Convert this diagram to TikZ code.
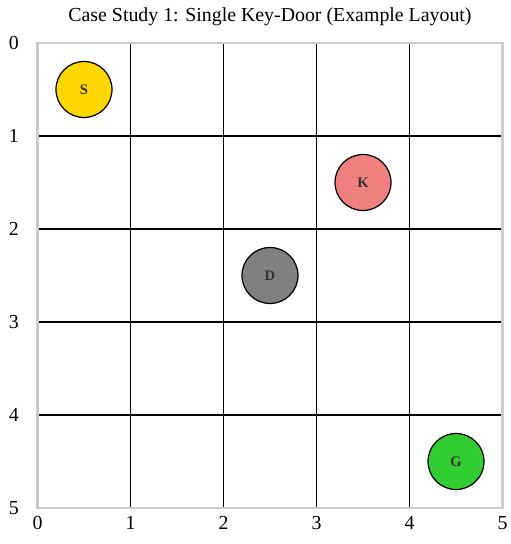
\documentclass[tikz,border=0pt]{standalone}
\usepackage{fontspec}
\setmainfont{Liberation Serif}
\usepackage{xcolor}
\usepackage{tikz}
\usetikzlibrary{positioning}

\definecolor{startgold}{HTML}{FFD700}
\definecolor{keycoral}{HTML}{F08080}
\definecolor{doorgray}{HTML}{808080}
\definecolor{goalgreen}{HTML}{32CD32}
\definecolor{framegray}{HTML}{CCCCCC}

\begin{document}
\begin{tikzpicture}[x=1.86cm, y=-1.86cm]
  \tikzstyle{cell} = [circle, draw=black, line width=0.7pt, minimum size=1.12cm, inner sep=0pt, font=\fontsize{8.3}{9}\selectfont\bfseries, text=black!80]
  \tikzstyle{gridline} = [black, line width=0.7pt]
  \tikzstyle{tick} = [font=\fontsize{11.3}{13}\selectfont, inner sep=0pt]
  \useasboundingbox (-0.403,-0.462) rectangle (5.081,5.387);
  \node[font=\fontsize{11.3}{13}\selectfont] (title) at (2.5,-0.28) {Case Study 1: Single Key-Door (Example Layout)};
  % grid
  \draw[gridline] (1,0) -- (1,5);
  \draw[gridline] (2,0) -- (2,5);
  \draw[gridline] (3,0) -- (3,5);
  \draw[gridline] (4,0) -- (4,5);
  \draw[gridline] (0,1) -- (5,1);
  \draw[gridline] (0,2) -- (5,2);
  \draw[gridline] (0,3) -- (5,3);
  \draw[gridline] (0,4) -- (5,4);
  \draw[framegray, line width=1.4pt] (0,0) rectangle (5,5);
  % axis labels
  \foreach \i in {0,...,5} {
    \node[tick] (xt\i) at (\i,5.16) {\i};
    \node[tick] (yt\i) at (-0.253,\i) {\i};
  }
  % objects
  \node[cell, fill=startgold] (S) at (0.5,0.5) {S};
  \node[cell, fill=keycoral]  (K) at (3.5,1.5) {K};
  \node[cell, fill=doorgray]  (D) at (2.5,2.5) {D};
  \node[cell, fill=goalgreen] (G) at (4.5,4.5) {G};
\end{tikzpicture}
\end{document}
